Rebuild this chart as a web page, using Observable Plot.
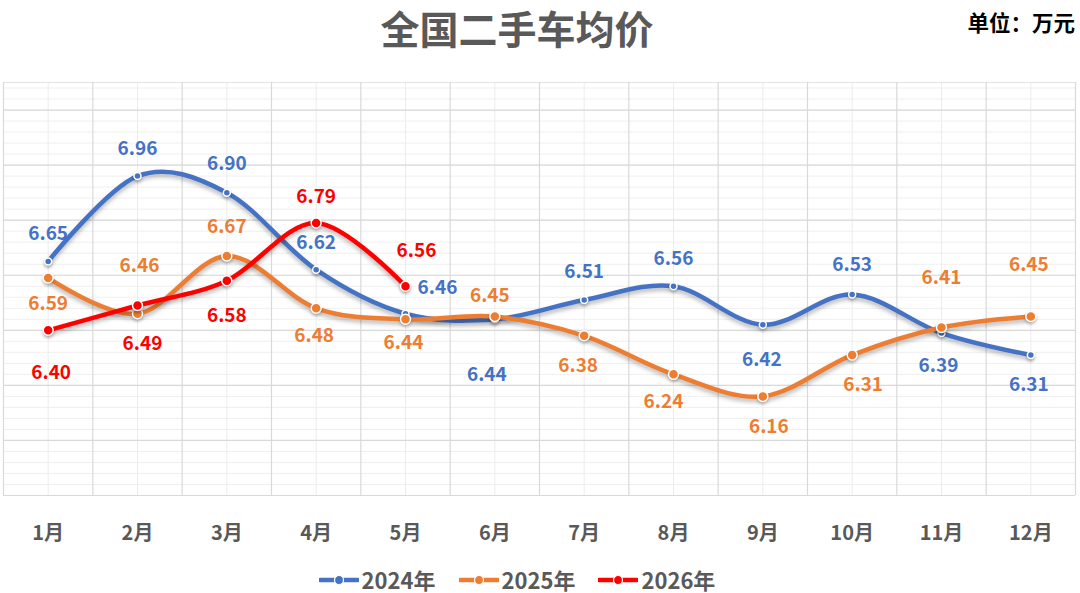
<!DOCTYPE html>
<html>
<head>
<meta charset="utf-8">
<script src="https://cdn.jsdelivr.net/npm/d3@7"></script>
<script src="https://cdn.jsdelivr.net/npm/@observablehq/plot@0.6"></script>
<style>
  body { margin: 0; background: #fff; font-family: "Noto Sans CJK SC", sans-serif; }
  #wrap { position: relative; width: 1080px; height: 593px; }
  #title { position: absolute; left: 0; top: 4px; width: 1034px; text-align: center;
           font-size: 39px; line-height: 1.2; font-weight: 700; color: #595959; }
  #unit { position: absolute; right: 5px; top: 9px; font-size: 21.5px; line-height: 1.2;
          font-weight: 700; color: #000; }
  #chart { position: absolute; left: 0; top: 70px; }
  #legend { position: absolute; left: 0; top: 567px; width: 1034px; display: flex;
            justify-content: center; gap: 23px; font-size: 22px; line-height: 1.15;
            font-weight: 700; color: #595959; }
  #legend .item { display: flex; align-items: center; gap: 3px; }
  #chart g[aria-label="line"] path { filter: drop-shadow(0px 3px 2px rgba(0,0,0,0.28)); }
  #chart g[aria-label="dot"] circle { filter: drop-shadow(0px 2px 1.5px rgba(0,0,0,0.25)); }
</style>
</head>
<body>
<div id="wrap">
  <div id="title">全国二手车均价</div>
  <div id="unit">单位：万元</div>
  <div id="chart"></div>
  <div id="legend"></div>
</div>
<script>
// Monthly average used-car price (10k yuan)
const months = ["1月", "2月", "3月", "4月", "5月", "6月", "7月", "8月", "9月", "10月", "11月", "12月"];
const avg2024 = [6.65, 6.96, 6.90, 6.62, 6.46, 6.44, 6.51, 6.56, 6.42, 6.53, 6.39, 6.31];
const avg2025 = [6.59, 6.46, 6.67, 6.48, 6.44, 6.45, 6.38, 6.24, 6.16, 6.31, 6.41, 6.45];
const avg2026 = [6.40, 6.49, 6.58, 6.79, 6.56];
const seriesNames = ["2024年", "2025年", "2026年"];
const seriesColors = ["#4472C4", "#ED7D31", "#FF0000"];

// Data-label placement (pixel offsets from each point)
const labelPos2024 = [[0,-28],[0,-27],[0,-29],[0,-27],[32,-26],[-8,56],[0,-28],[0,-27],[-1,35],[0,-30],[-3,33],[-2,30]];
const labelPos2025 = [[0,26],[2,-48],[0,-29],[-2,28],[-2,24],[-5,-21],[-6,30],[-10,28],[6,31],[11,30],[0,-50],[-2,-52]];
const labelPos2026 = [[3,43],[5,38],[0,35],[0,-26],[11,-35]];

const seriesValues = [avg2024, avg2025, avg2026];
const labelPos = [labelPos2024, labelPos2025, labelPos2026];
const dotRadius = [3.5, 5, 5];

const rows = seriesValues.map((vals, s) =>
  vals.map((v, i) => ({ month: i + 1, value: v, series: s, off: labelPos[s][i] }))
);

// Spreadsheet-style grid
const yMin = 5.8, yMax = 7.3;
const minorY = d3.range(0, 38).map(k => +(yMin + k * 0.04).toFixed(2)).filter(v => v <= yMax);
const majorY = d3.range(0, 8).map(k => +(yMin + k * 0.2).toFixed(2));
const bandEdges = d3.range(0, 13).map(k => 0.5 + k);
const bandCenters = d3.range(1, 13);

const marks = [
  Plot.ruleY(minorY, { stroke: "#efefef", strokeWidth: 1 }),
  Plot.ruleX(bandCenters, { stroke: "#ececec", strokeWidth: 1 }),
  Plot.ruleY([yMax], { stroke: "#e3e3e3", strokeWidth: 1 }),
  Plot.ruleY(majorY, { stroke: "#d9d9d9", strokeWidth: 1.2 }),
  Plot.ruleX(bandEdges, { stroke: "#d9d9d9", strokeWidth: 1.2 }),
  Plot.axisX(bandCenters, {
    label: null, tickSize: 0, tickPadding: 30, tickFormat: i => months[i - 1],
    fontSize: 20, fontWeight: "bold", fill: "#595959"
  })
];

rows.forEach((data, s) => {
  marks.push(
    Plot.line(data, { x: "month", y: "value", stroke: seriesColors[s], strokeWidth: 4.5,
                      curve: "cardinal", tension: 0 }),
    Plot.dot(data, { x: "month", y: "value", r: dotRadius[s], fill: seriesColors[s],
                     stroke: "white", strokeWidth: 1.5 })
  );
});

rows.forEach((data, s) => {
  data.forEach(d => {
    marks.push(Plot.text([d], {
      x: "month", y: "value", text: r => r.value.toFixed(2),
      dx: d.off[0], dy: d.off[1], fill: seriesColors[s],
      fontSize: 19, fontWeight: "bold"
    }));
  });
});

const chart = Plot.plot({
  width: 1080,
  height: 480,
  marginTop: 12,
  marginBottom: 55,
  marginLeft: 3,
  marginRight: 5,
  style: { fontFamily: "'Noto Sans CJK SC', sans-serif", background: "transparent" },
  x: { domain: [0.5, 12.5], label: null },
  y: { domain: [yMin, yMax], axis: null },
  marks
});
document.getElementById("chart").appendChild(chart);

// Legend
const legend = d3.select("#legend");
seriesNames.forEach((name, s) => {
  const item = legend.append("div").attr("class", "item");
  const sym = item.append("svg").attr("width", 40).attr("height", 12);
  sym.append("line").attr("x1", 1).attr("x2", 39).attr("y1", 6).attr("y2", 6)
    .attr("stroke", seriesColors[s]).attr("stroke-width", 4.5).attr("stroke-linecap", "round");
  sym.append("circle").attr("cx", 20).attr("cy", 6).attr("r", 4.5)
    .attr("fill", seriesColors[s]).attr("stroke", "white").attr("stroke-width", 1.2);
  item.append("span").text(name);
});
</script>
</body>
</html>
